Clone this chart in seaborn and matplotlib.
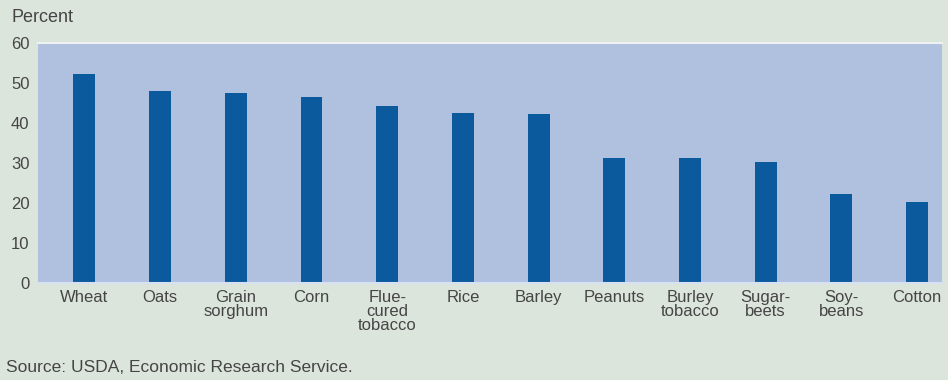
import matplotlib
matplotlib.use("Agg")
import matplotlib.pyplot as plt
import seaborn as sns
import pandas as pd

# ---- data ----
crops = ["Wheat", "Oats", "Grain\nsorghum", "Corn", "Flue-\ncured\ntobacco", "Rice",
         "Barley", "Peanuts", "Burley\ntobacco", "Sugar-\nbeets", "Soy-\nbeans", "Cotton"]
percent = [52.3, 48.1, 47.4, 46.4, 44.3, 42.4, 42.3, 31.3, 31.3, 30.3, 22.3, 20.3]
yticks = [0, 10, 20, 30, 40, 50, 60]

df = pd.DataFrame({"crop": crops, "percent": percent})

sns.set_style("white")
plt.rcParams["font.family"] = ["Liberation Sans", "DejaVu Sans"]

bg = "#dce5dc"
txt = "#454545"
fig = plt.figure(figsize=(9.48, 3.8), dpi=100, facecolor=bg)
ax = fig.add_axes([0.040, 0.2553, 0.9537, 0.6315])
ax.set_facecolor("#b0c0df")

sns.barplot(data=df, x="crop", y="percent", color="#0b5a9e", saturation=1,
            width=0.29, linewidth=0, ax=ax)

ax.set_ylim(0, 60)
ax.set_xlim(-0.614, 11.33)
ax.set_yticks(yticks)
ax.set_xlabel("")
ax.set_ylabel("")
ax.tick_params(axis="y", length=0, pad=6, labelsize=12, labelcolor=txt)
ax.tick_params(axis="x", length=0, pad=5, labelsize=12, labelcolor=txt)
for lab in ax.get_xticklabels():
    lab.set_linespacing(0.92)
    lab.set_verticalalignment("top")

for side in ["left", "right"]:
    ax.spines[side].set_visible(False)
ax.spines["top"].set_color("#eef2f2")
ax.spines["top"].set_linewidth(1.5)
ax.spines["bottom"].set_color("#d6e2f2")
ax.spines["bottom"].set_linewidth(1.5)

fig.text(0.012, 0.955, "Percent", fontsize=13, color=txt, va="center", ha="left")
fig.text(0.006, 0.034, "Source: USDA, Economic Research Service.", fontsize=12.5,
         color=txt, va="center", ha="left")

fig.savefig("out.png", dpi=100, facecolor=bg)
